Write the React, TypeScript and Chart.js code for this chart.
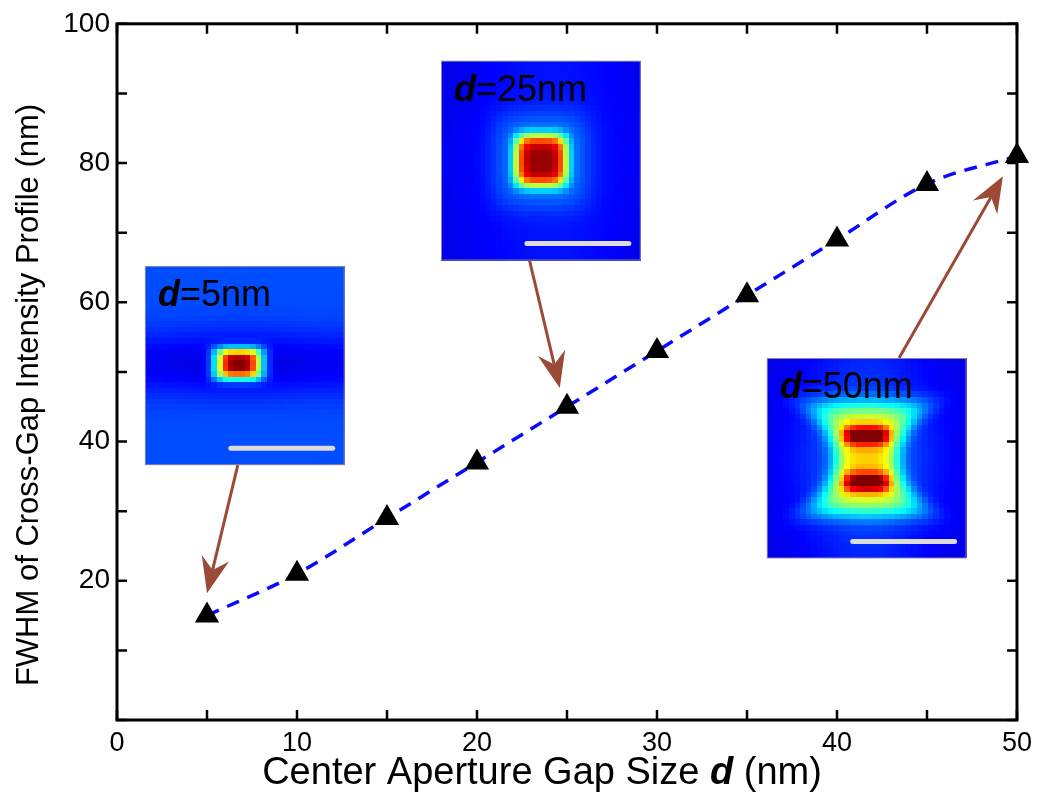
import React, { useEffect, useRef } from 'react';
import { Chart, registerables } from 'chart.js';

Chart.register(...registerables);

// ---- data ----
const gapSizes = [5, 10, 15, 20, 25, 30, 35, 40, 45, 50];
const fwhmValues = [15, 21, 29, 37, 45, 53, 61, 69, 77, 81];
const xTickLabels = ['0', '10', '20', '30', '40', '50'];
const yTickLabels = ['20', '40', '60', '80', '100'];
const insetGaps = ['5', '25', '50'];
const xTitleParts = ['Center Aperture Gap Size ', 'd', ' (nm)'];
const yTitle = 'FWHM of Cross-Gap Intensity Profile (nm)';

// ---- inset layout (data units) ----
const insetBoxes = [
  { x0: 1.55, x1: 12.65, yTop: 65.2, yBot: 36.6 },
  { x0: 18.0, x1: 29.1, yTop: 94.7, yBot: 66.0 },
  { x0: 36.1, x1: 47.2, yTop: 52.0, yBot: 23.2 },
];
const arrowPaths = [
  { fx: 6.71, fy: 36.6, tx: 5.0, ty: 18.2 },
  { fx: 22.92, fy: 66.0, tx: 24.6, ty: 47.7 },
  { fx: 43.45, fy: 52.0, tx: 49.22, ty: 78.1 },
];

const FONT = '"Liberation Sans", Arial, Helvetica, sans-serif';

function clamp01(v: number) {
  return Math.max(0, Math.min(1, v));
}
function jet(t: number): [number, number, number] {
  t = clamp01(t);
  const r = clamp01(1.5 - Math.abs(4 * t - 3));
  const g = clamp01(1.5 - Math.abs(4 * t - 2));
  const b = clamp01(1.5 - Math.abs(4 * t - 1));
  return [Math.round(r * 255), Math.round(g * 255), Math.round(b * 255)];
}

// intensity fields for the three field-map insets
const fields: Array<(u: number, v: number) => number> = [
  (u, v) => {
    const du = u - 0.47;
    const dv = v - 0.49;
    let t = 0.2 - 0.11 * Math.exp(-((dv / 0.16) ** 2)) * (0.75 + 0.25 * Math.exp(-((du / 0.35) ** 2)));
    const q = Math.pow((du / 0.12) ** 4 + (dv / 0.08) ** 4, 0.25);
    t += 0.92 * Math.exp(-1.2 * q ** 3);
    return t;
  },
  (u, v) => {
    const du = u - 0.5;
    const dv = v - 0.5;
    const r = Math.pow(du ** 4 + dv ** 4, 0.25);
    const bg = 0.1 + 0.05 * Math.exp(-(((u - 0.55) / 0.45) ** 2)) - 0.02 * Math.abs(dv);
    return (
      bg +
      0.72 * Math.exp(-((r / 0.13) ** 4.5)) +
      0.11 * Math.exp(-((r / 0.24) ** 4))
    );
  },
  (u, v) => {
    const du = u - 0.5;
    const dv = v - 0.503;
    const bg = 0.1 + 0.05 * Math.exp(-((du / 0.3) ** 2));
    const w = 0.16 + 2.2 * dv * dv;
    const hour =
      0.42 * Math.exp(-((Math.abs(du) / w) ** 4)) * Math.exp(-((Math.abs(dv) / 0.28) ** 6));
    const lobes =
      0.45 *
      Math.exp(-((du / 0.12) ** 4)) *
      Math.exp(-(((Math.abs(dv) - 0.117) / 0.047) ** 2));
    const halo = 0.1 * Math.exp(-((du / 0.33) ** 2 + (dv / 0.33) ** 2));
    return bg + hour + lobes + halo;
  },
];

function makeField(fn: (u: number, v: number) => number, n: number) {
  const c = document.createElement('canvas');
  c.width = n;
  c.height = n;
  const ctx = c.getContext('2d')!;
  const img = ctx.createImageData(n, n);
  for (let j = 0; j < n; j++) {
    for (let i = 0; i < n; i++) {
      const [r, g, b] = jet(fn((i + 0.5) / n, (j + 0.5) / n));
      const k = (j * n + i) * 4;
      img.data[k] = r;
      img.data[k + 1] = g;
      img.data[k + 2] = b;
      img.data[k + 3] = 255;
    }
  }
  ctx.putImageData(img, 0, 0);
  return c;
}

function drawArrow(ctx: CanvasRenderingContext2D, x1: number, y1: number, x2: number, y2: number) {
  const ang = Math.atan2(y2 - y1, x2 - x1);
  const L = 36;
  const W = 14;
  const notch = 24;
  ctx.save();
  ctx.strokeStyle = '#9a4a37';
  ctx.fillStyle = '#9a4a37';
  ctx.lineWidth = 3;
  ctx.beginPath();
  ctx.moveTo(x1, y1);
  ctx.lineTo(x2 - Math.cos(ang) * notch, y2 - Math.sin(ang) * notch);
  ctx.stroke();
  ctx.translate(x2, y2);
  ctx.rotate(ang);
  ctx.beginPath();
  ctx.moveTo(0, 0);
  ctx.lineTo(-L, -W);
  ctx.lineTo(-notch, 0);
  ctx.lineTo(-L, W);
  ctx.closePath();
  ctx.fill();
  ctx.restore();
}

export default function App() {
  const ref = useRef<HTMLCanvasElement>(null);

  useEffect(() => {
    if (!ref.current) return;
    const fieldImgs = fields.map((f) => makeField(f, 36));

    const decorPlugin = {
      id: 'decor',
      beforeDatasetsDraw(chart: any) {
        const ctx = chart.ctx as CanvasRenderingContext2D;
        const xs = chart.scales.x;
        const ys = chart.scales.y;
        const { left, right, top, bottom } = chart.chartArea;
        ctx.save();
        // frame
        ctx.strokeStyle = '#000';
        ctx.lineWidth = 3;
        ctx.strokeRect(left, top, right - left, bottom - top);
        // inward ticks
        ctx.lineWidth = 2.5;
        const tl = 10;
        xs.ticks.forEach((t: any) => {
          const px = xs.getPixelForValue(t.value);
          ctx.beginPath();
          ctx.moveTo(px, bottom);
          ctx.lineTo(px, bottom - tl);
          ctx.moveTo(px, top);
          ctx.lineTo(px, top + tl);
          ctx.stroke();
        });
        ys.ticks.forEach((t: any) => {
          const py = ys.getPixelForValue(t.value);
          ctx.beginPath();
          ctx.moveTo(left, py);
          ctx.lineTo(left + tl, py);
          ctx.moveTo(right, py);
          ctx.lineTo(right - tl, py);
          ctx.stroke();
        });
        // insets
        insetBoxes.forEach((b, i) => {
          const x0 = xs.getPixelForValue(b.x0);
          const x1 = xs.getPixelForValue(b.x1);
          const y0 = ys.getPixelForValue(b.yTop);
          const y1 = ys.getPixelForValue(b.yBot);
          const w = x1 - x0;
          const h = y1 - y0;
          ctx.imageSmoothingEnabled = false;
          ctx.drawImage(fieldImgs[i], x0, y0, w, h);
          ctx.imageSmoothingEnabled = true;
          ctx.lineWidth = 1;
          ctx.strokeStyle = '#8a8aa0';
          ctx.strokeRect(x0 + 0.5, y0 + 0.5, w - 1, h - 1);
          // scale bar
          ctx.strokeStyle = '#dcdcdc';
          ctx.lineWidth = 5;
          ctx.lineCap = 'round';
          ctx.beginPath();
          ctx.moveTo(x0 + w * 0.43, y0 + h * 0.915);
          ctx.lineTo(x0 + w * 0.94, y0 + h * 0.915);
          ctx.stroke();
          ctx.lineCap = 'butt';
          // label
          ctx.fillStyle = '#000';
          ctx.textBaseline = 'alphabetic';
          ctx.textAlign = 'left';
          const tx = x0 + w * 0.065;
          const ty = y0 + h * 0.2;
          ctx.font = `italic bold 36px ${FONT}`;
          ctx.fillText('d', tx, ty);
          const dw = ctx.measureText('d').width;
          ctx.font = `36px ${FONT}`;
          ctx.fillText(`=${insetGaps[i]}nm`, tx + dw, ty);
        });
        ctx.restore();
      },
      afterDatasetsDraw(chart: any) {
        const ctx = chart.ctx as CanvasRenderingContext2D;
        const xs = chart.scales.x;
        const ys = chart.scales.y;
        arrowPaths.forEach((a) => {
          drawArrow(
            ctx,
            xs.getPixelForValue(a.fx),
            ys.getPixelForValue(a.fy),
            xs.getPixelForValue(a.tx),
            ys.getPixelForValue(a.ty)
          );
        });
        // axis titles
        ctx.save();
        ctx.fillStyle = '#000';
        ctx.textBaseline = 'middle';
        ctx.textAlign = 'left';
        const fonts = [`38px ${FONT}`, `italic bold 38px ${FONT}`, `38px ${FONT}`];
        const widths = xTitleParts.map((p, i) => {
          ctx.font = fonts[i];
          return ctx.measureText(p).width;
        });
        const total = widths.reduce((a, b) => a + b, 0);
        let cx = 542 - total / 2;
        xTitleParts.forEach((p, i) => {
          ctx.font = fonts[i];
          ctx.fillText(p, cx, 774);
          cx += widths[i];
        });
        ctx.translate(29, 395);
        ctx.rotate(-Math.PI / 2);
        ctx.textAlign = 'center';
        ctx.font = `31px ${FONT}`;
        ctx.fillText(yTitle, 0, 0);
        ctx.restore();
      },
    };

    const chart = new Chart(ref.current, {
      type: 'scatter',
      data: {
        datasets: [
          {
            data: gapSizes.map((x, i) => ({ x, y: fwhmValues[i] })),
            showLine: true,
            borderColor: '#0a0aff',
            borderWidth: 3.5,
            borderDash: [13, 9],
            cubicInterpolationMode: 'monotone',
            pointStyle: 'triangle',
            pointRadius: 14,
            pointHoverRadius: 14,
            pointBackgroundColor: '#000',
            pointBorderColor: '#000',
            pointBorderWidth: 0,
            clip: false,
          } as any,
        ],
      },
      options: {
        animation: false,
        responsive: false,
        maintainAspectRatio: false,
        events: [],
        layout: { padding: { left: 0, top: 18, right: 21, bottom: 0 } },
        plugins: {
          legend: { display: false },
          tooltip: { enabled: false },
        },
        scales: {
          x: {
            type: 'linear',
            min: 0,
            max: 50,
            grid: { display: false, drawTicks: false },
            border: { display: false },
            ticks: {
              stepSize: 5,
              autoSkip: false,
              maxRotation: 0,
              padding: 7,
              color: '#000',
              font: { family: FONT, size: 27 },
              callback: (v: any) => (xTickLabels.includes(String(v)) ? String(v) : ''),
            },
            afterFit: (s: any) => {
              s.height = 92;
            },
          },
          y: {
            type: 'linear',
            min: 0,
            max: 100,
            grid: { display: false, drawTicks: false },
            border: { display: false },
            ticks: {
              stepSize: 10,
              autoSkip: false,
              padding: 7,
              color: '#000',
              font: { family: FONT, size: 28 },
              callback: (v: any) => (yTickLabels.includes(String(v)) ? String(v) : ''),
            },
            afterFit: (s: any) => {
              s.width = 117;
            },
          },
        },
      },
      plugins: [decorPlugin],
    });
    return () => chart.destroy();
  }, []);

  return (
    <div style={{ position: 'fixed', left: 0, top: 0, width: 1039, height: 812, background: '#fff' }}>
      <canvas ref={ref} width={1039} height={812} />
    </div>
  );
}
